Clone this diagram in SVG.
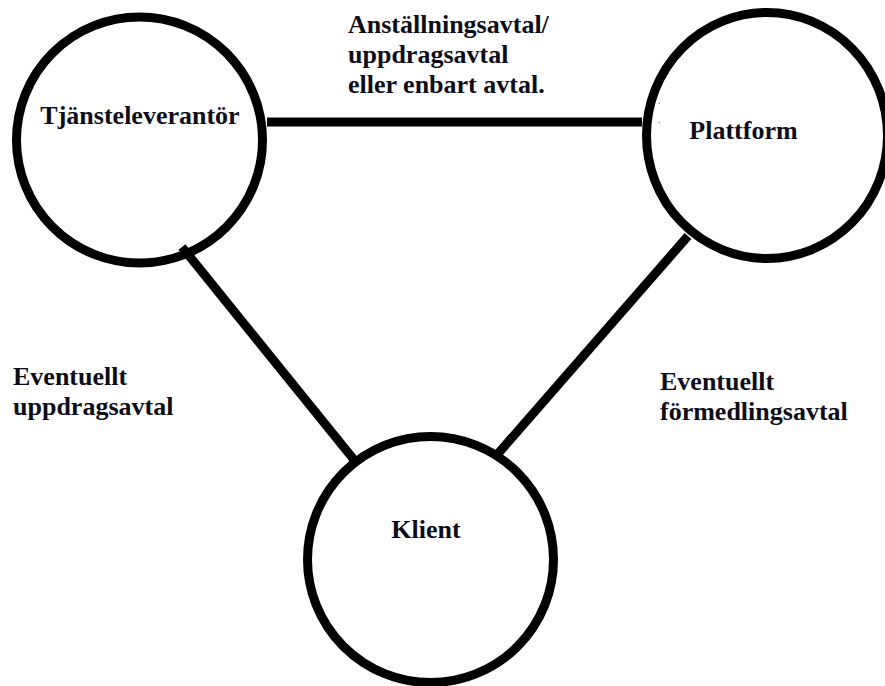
<svg xmlns="http://www.w3.org/2000/svg" width="885" height="686" viewBox="0 0 885 686">
<style>
.node{fill:none;stroke:#000;stroke-width:9}
.edge{stroke:#000;stroke-width:9;stroke-linecap:butt}
.t{font-family:'Liberation Serif','Times New Roman',Times,serif;font-weight:700;font-size:26px;fill:#0d0d1a}
</style>
<rect width="885" height="686" fill="#fff"/>
<g id="connectors">
<line class="edge" x1="267" y1="122" x2="642" y2="122"/>
<line class="edge" x1="182" y1="247" x2="355" y2="461"/>
<line class="edge" x1="688" y1="236" x2="496" y2="456"/>
</g>
<g id="tjansteleverantor">
<circle class="node" cx="139.5" cy="140" r="123"/>
<text class="t" x="140" y="124" text-anchor="middle">Tjänsteleverantör</text>
</g>
<g id="plattform">
<ellipse class="node" cx="767" cy="135.5" rx="120.5" ry="123"/>
<text class="t" x="743.5" y="139" text-anchor="middle">Plattform</text>
<circle cx="659.3" cy="103.5" r="0.8" fill="#c8763c"/>
<circle cx="659.3" cy="122.5" r="0.8" fill="#c8763c"/>
</g>
<g id="klient">
<circle class="node" cx="430.5" cy="559.5" r="123"/>
<text class="t" x="426" y="538" text-anchor="middle">Klient</text>
</g>
<g id="labels">
<text class="t" x="348" y="33">Anställningsavtal/</text>
<text class="t" x="348" y="63">uppdragsavtal</text>
<text class="t" x="348" y="93">eller enbart avtal.</text>
<text class="t" x="13" y="385">Eventuellt</text>
<text class="t" x="13" y="415">uppdragsavtal</text>
<text class="t" x="660" y="390">Eventuellt</text>
<text class="t" x="660" y="420">förmedlingsavtal</text>
</g>
</svg>
